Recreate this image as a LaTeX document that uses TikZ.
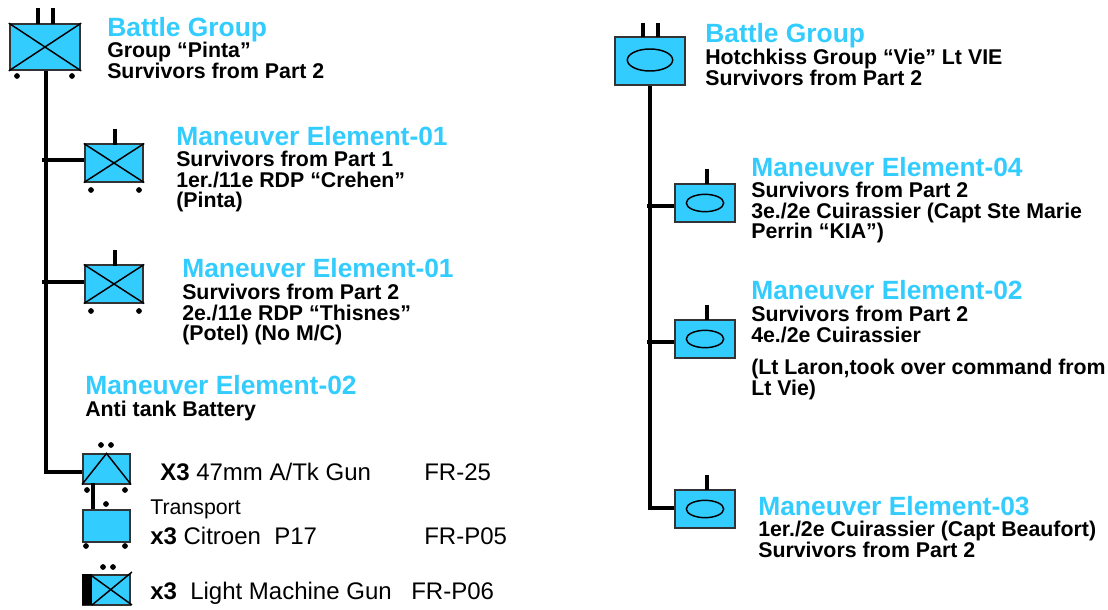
\documentclass[tikz,border=0pt]{standalone}
\usepackage{fontspec}
\usetikzlibrary{shapes.geometric}
\setmainfont{Liberation Sans}
\definecolor{unitblue}{RGB}{51,204,255}
\tikzset{
  unitbox/.style={draw=black!80,line width=1.3pt,fill=unitblue,inner sep=0pt},
  symb/.style={draw=black,line width=1.1pt},
  oval/.style={symb,ellipse,inner sep=0pt},
  trunk/.style={draw=black,line width=3pt},
  tick/.style={draw=black,line width=3pt},
  wheel/.style={circle,fill=black,inner sep=0pt,minimum size=4.3pt},
  heading/.style={anchor=north west,inner sep=0pt,text=unitblue,font=\fontsize{19.8}{22}\selectfont\bfseries},
  info/.style={anchor=north west,inner sep=0pt,align=left,font=\fontsize{16}{15.4}\selectfont\bfseries},
  plain/.style={anchor=base west,inner sep=0pt,font=\fontsize{18}{20}\selectfont},
}
\begin{document}
\begin{tikzpicture}[x=0.75pt,y=-0.75pt]
\useasboundingbox (0,0) rectangle (1108,610);
% left column
\node[unitbox,minimum width=53pt,minimum height=34.5pt] (bgl) at (45,47) {};
\draw[symb] (bgl.north west) -- (bgl.south east) (bgl.north east) -- (bgl.south west);
\node[unitbox,minimum width=44pt,minimum height=28pt] (mea) at (114,163) {};
\draw[symb] (mea.north west) -- (mea.south east) (mea.north east) -- (mea.south west);
\node[unitbox,minimum width=44pt,minimum height=28pt] (meb) at (114,284) {};
\draw[symb] (meb.north west) -- (meb.south east) (meb.north east) -- (meb.south west);
\node[unitbox,minimum width=35.5pt,minimum height=22pt] (gun) at (106.5,469) {};
\draw[symb] (gun.south west) -- (gun.north) -- (gun.south east);
\node[unitbox,minimum width=35.5pt,minimum height=23.5pt] (car) at (106.5,526) {};
\node[unitbox,minimum width=35.5pt,minimum height=22pt] (lmg) at (106.5,590) {};
\fill[black] (lmg.north west) rectangle (92,605);
\draw[symb] (92,576) -- (132,605) (92,605) -- (132,572);
% trunks left
\coordinate (jt) at (46,472);
\coordinate (ja) at (42,160);
\coordinate (jb) at (42,282);
\draw[trunk] (jt |- bgl.south) -- (jt) -- (jt -| gun.west);
\draw[trunk] (ja) -- (ja -| mea.west);
\draw[trunk] (jb) -- (jb -| meb.west);
\coordinate (jg) at (93,483);
\draw[line width=3.3pt] (jg) -- (jg |- car.north);
% ticks left
\foreach \x/\y/\h in {38/8/24,53/8/24,115/129/145,115/250/266}
  \draw[tick] (\x,\y) -- (\x,\h);
% wheels left
\foreach \x/\y in {17/76,72/76,91/190,139/190,91/311,139/311,101/445,111/445,87/490,125/490,106/504,86/546,125/546,103/567,113/567}
  \node[wheel] at (\x,\y) {};
% left texts
\node[heading] (tbgl) at (107,17) {Battle Group};
\node[info] (ibgl) at (107,42) {Group “Pinta”\\Survivors from Part 2};
\node[heading] (tmea) at (176,126) {Maneuver Element-01};
\node[info] (imea) at (176,151) {Survivors from Part 1\\1er./11e RDP “Crehen”\\(Pinta)};
\node[heading] (tmeb) at (182,258) {Maneuver Element-01};
\node[info] (imeb) at (182,284) {Survivors from Part 2\\2e./11e RDP “Thisnes”\\(Potel) (No M/C)};
\node[heading] (tmec) at (85,375) {Maneuver Element-02};
\node[info] (imec) at (85,401) {Anti tank Battery};
\node[plain] (lgun) at (160,480) {\textbf{X3} 47mm A/Tk Gun};
\node[plain] (fgun) at (424,480) {FR-25};
\node[plain,font=\fontsize{16}{18}\selectfont] (ltra) at (150,514) {Transport};
\node[plain] (lcar) at (150,544) {\textbf{x3} Citroen\ \ P17};
\node[plain] (fcar) at (424,544) {FR-P05};
\node[plain] (llmg) at (150,599) {\textbf{x3}\ \ Light Machine Gun};
\node[plain] (flmg) at (411,599) {FR-P06};
% right column
\node[unitbox,minimum width=53pt,minimum height=36pt] (bgr) at (650,61) {};
\node[oval,minimum width=34pt,minimum height=16.5pt] (ega) at (650,60) {};
\node[unitbox,minimum width=45pt,minimum height=28.5pt] (med) at (705,203) {};
\node[oval,minimum width=28pt,minimum height=13pt] (egb) at (705,203) {};
\node[unitbox,minimum width=45pt,minimum height=28.5pt] (mee) at (705,339) {};
\node[oval,minimum width=28pt,minimum height=13pt] (egc) at (705,339) {};
\node[unitbox,minimum width=45pt,minimum height=28.5pt] (mef) at (705,509) {};
\node[oval,minimum width=28pt,minimum height=13pt] (egd) at (705,509) {};
\coordinate (jd) at (647,206);
\coordinate (je) at (647,342);
\coordinate (jf) at (650,508);
\draw[trunk] (jf |- bgr.south) -- (jf) -- (jf -| mef.west);
\draw[trunk] (jd) -- (jd -| med.west);
\draw[trunk] (je) -- (je -| mee.west);
\foreach \x/\y/\h in {643/23/37,658/23/37,707/169/184,707/305/320,707/475/490}
  \draw[tick] (\x,\y) -- (\x,\h);
\node[heading] (tbgr) at (705,23) {Battle Group};
\node[info] (ibgr) at (705,49) {Hotchkiss Group “Vie” Lt VIE\\Survivors from Part 2};
\node[heading] (tmed) at (751,157) {Maneuver Element-04};
\node[info] (imed) at (751,182) {Survivors from Part 2\\3e./2e Cuirassier (Capt Ste Marie\\Perrin “KIA”)};
\node[heading] (tmee) at (751,280) {Maneuver Element-02};
\node[info] (imee) at (751,306) {Survivors from Part 2\\4e./2e Cuirassier};
\node[info] (ifee) at (751,359) {(Lt Laron,took over command from\\Lt Vie)};
\node[heading] (tmef) at (758,496) {Maneuver Element-03};
\node[info] (imef) at (758,521) {1er./2e Cuirassier (Capt Beaufort)\\Survivors from Part 2};
\end{tikzpicture}
\end{document}
